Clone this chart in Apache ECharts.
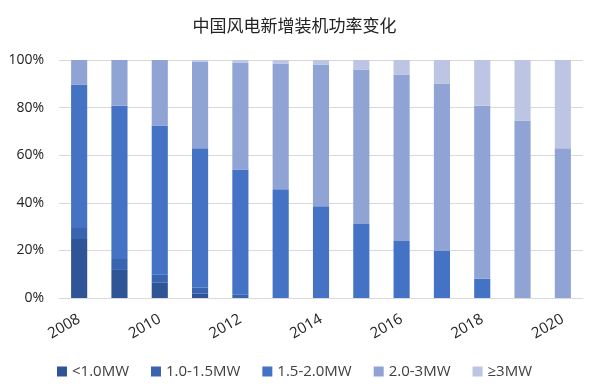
<!DOCTYPE html>
<html><head><meta charset="utf-8">
<script src="https://cdn.jsdelivr.net/npm/echarts@6/dist/echarts.min.js"></script>
<style>html,body{margin:0;padding:0;background:#fff}#c{width:589px;height:391px}</style>
</head><body><div id="c"></div>
<script>
const years = ['2008','2009','2010','2011','2012','2013','2014','2015','2016','2017','2018','2019','2020'];
const seriesNames = ['<1.0MW','1.0-1.5MW','1.5-2.0MW','2.0-3MW','≥3MW'];
const lt10 = [24.8, 11.8, 6.4, 1.8, 0, 0, 0, 0, 0, 0, 0, 0, 0];
const s10_15 = [5.0, 4.6, 3.4, 2.5, 1.4, 0, 0, 0, 0, 0, 0, 0, 0];
const s15_20 = [59.9, 64.4, 62.7, 58.6, 52.6, 45.7, 38.6, 31.1, 24.0, 19.8, 8.1, 0, 0];
const s20_30 = [10.3, 19.2, 27.5, 36.5, 45.0, 52.8, 59.5, 64.9, 69.9, 70.3, 72.7, 74.6, 62.9];
const ge30 = [0, 0, 0, 0.6, 1.0, 1.5, 1.9, 4.0, 6.1, 9.9, 19.2, 25.4, 37.1];
const colors = ['#2F5597','#3864B0','#4472C4','#8FA3D5','#BCC5E3'];
const values = [lt10, s10_15, s15_20, s20_30, ge30];
const chart = echarts.init(document.getElementById('c'), null, {renderer:'canvas'});
chart.setOption({
  animation:false,
  color: colors,
  title:{text:'中国风电新增装机功率变化', left:'center', top:12,
    textStyle:{fontFamily:'Noto Sans CJK SC', fontSize:17, fontWeight:'normal', color:'#222'}},
  legend:{bottom:7, left:'center', itemWidth:10, itemHeight:10, itemGap:22, icon:'rect',
    textStyle:{fontFamily:'Open Sans', fontSize:15, color:'#404040'}},
  grid:{left:59, right:6, top:60, bottom:93},
  xAxis:{type:'category', data:years,
    axisLine:{lineStyle:{color:'#d9d9d9'}}, axisTick:{show:false},
    axisLabel:{interval:1, rotate:30, fontFamily:'Open Sans', fontSize:15, color:'#222', margin:20}},
  yAxis:{type:'value', min:0, max:100, interval:20,
    axisLabel:{formatter:'{value}%', fontFamily:'Open Sans', fontSize:14, color:'#222', margin:15},
    splitLine:{lineStyle:{color:'#d9d9d9'}}, axisLine:{show:false}, axisTick:{show:false}},
  series: seriesNames.map((n,i)=>({name:n, type:'bar', stack:'a', barWidth:'40%', data:values[i]}))
});
</script></body></html>
